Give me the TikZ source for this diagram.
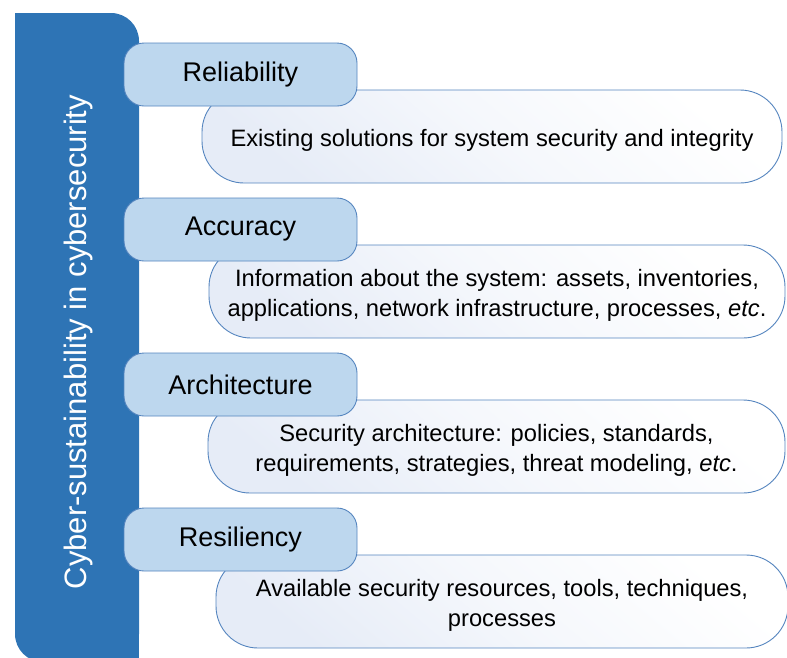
\documentclass[tikz,border=0pt]{standalone}
\usepackage{fontspec}
\setmainfont{Liberation Sans}

\definecolor{barblue}{HTML}{2E74B5}
\definecolor{tagfill}{HTML}{BDD7EE}
\definecolor{edgeblue}{HTML}{5585BF}
\definecolor{descblue}{HTML}{E6ECF7}

\newcommand{\desctext}[1]{\raisebox{-4pt}[\height][\depth]{\begin{tabular}{@{}c@{}}#1\end{tabular}}}

\tikzset{
  tagbox/.style={draw=edgeblue, fill=tagfill, line width=0.9pt, rounded corners=20pt,
    minimum width=233pt, minimum height=63pt, inner sep=0pt,
    font=\fontsize{27}{32}\selectfont},
  descbox/.style={draw=edgeblue, line width=0.9pt, rounded corners=42pt,
    minimum height=93pt, inner sep=0pt,
    top color=white, bottom color=descblue, middle color=white!60!descblue,
    shading angle=-40,
    font=\fontsize{23.7}{30}\selectfont},
  titletext/.style={rotate=90, text=white, font=\fontsize{31}{36}\selectfont}
}

\begin{document}
\begin{tikzpicture}[x=1pt, y=-1pt]
\useasboundingbox (0,0) rectangle (787,657);
% side bar, rounded top right and bottom left
\fill[barblue, rounded corners=28pt] (15,13) rectangle (139,662);
\fill[barblue] (15,13) rectangle (60,60);
\fill[barblue] (90,600) rectangle (139,662);
\node [titletext] (title) at (78,342) {Cyber-sustainability in cybersecurity};

% reliability
\node [descbox, minimum width=580pt] (reldesc) at (492,136.5)
  {\desctext{Existing solutions for system security and integrity}};
\node [tagbox] (rel) at (240.5,74.5) {Reliability};

% accuracy
\node [descbox, minimum width=576pt] (accdesc) at (497,291.5)
  {\desctext{Information about the system: assets, inventories,\\
   applications, network infrastructure, processes, \emph{etc}.}};
\node [tagbox] (acc) at (240.5,229.5) {Accuracy};

% architecture
\node [descbox, minimum width=577pt] (archdesc) at (496.5,446.5)
  {\desctext{Security architecture: policies, standards,\\
   requirements, strategies, threat modeling, \emph{etc}.}};
\node [tagbox] (arch) at (240.5,384.5) {Architecture};

% resiliency
\node [descbox, minimum width=572pt] (resdesc) at (502,601.5)
  {\desctext{Available security resources, tools, techniques,\\ processes}};
\node [tagbox] (res) at (240.5,539.5) {Resiliency};
\end{tikzpicture}
\end{document}
